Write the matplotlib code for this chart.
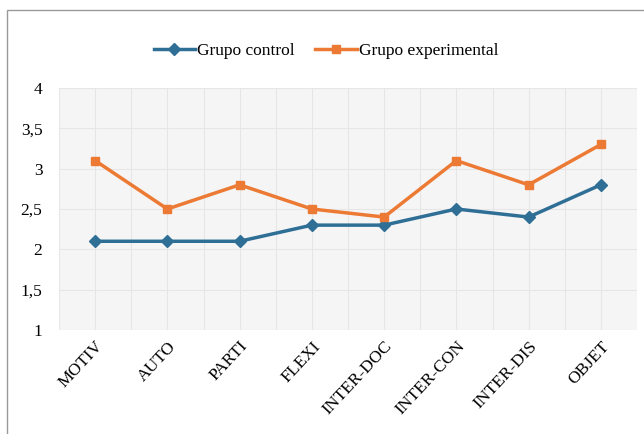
import matplotlib
matplotlib.use("Agg")
import matplotlib.pyplot as plt
from matplotlib.patches import Rectangle
import numpy as np

categories = ["MOTIV", "AUTO", "PARTI", "FLEXI", "INTER-DOC", "INTER-CON", "INTER-DIS", "OBJET"]
control = [2.1, 2.1, 2.1, 2.3, 2.3, 2.5, 2.4, 2.8]
experimental = [3.1, 2.5, 2.8, 2.5, 2.4, 3.1, 2.8, 3.3]
yticks = [1, 1.5, 2, 2.5, 3, 3.5, 4]
ytick_labels = ["1", "1,5", "2", "2,5", "3", "3,5", "4"]

plt.rcParams['font.family'] = ['Liberation Serif', 'DejaVu Serif']

fig = plt.figure(figsize=(6.44, 4.34), dpi=100)
fig.patches.append(Rectangle((7/644, -0.1), 1.2, 1 - 10/434 + 0.1,
                             transform=fig.transFigure, fill=False,
                             edgecolor='#9a9a9a', linewidth=1.0))

ax = fig.add_axes([59/644, 1 - 330/434, 578/644, 242/434])
ax.set_facecolor('#f5f5f5')
x = np.arange(len(categories))
ax.plot(x, control, color='#2f6f96', marker='D', markersize=6, linewidth=2.5,
        label='Grupo control', zorder=3)
ax.plot(x, experimental, color='#ec7a34', marker='s', markersize=6, linewidth=2.5,
        label='Grupo experimental', zorder=3)

ax.set_xlim(-0.5, len(categories) - 0.5)
ax.set_ylim(1, 4)
ax.set_yticks(yticks)
ax.set_yticklabels(ytick_labels, fontsize=12.5)
ax.set_xticks(x)
ax.set_xticklabels(categories, rotation=47, ha='right', rotation_mode='anchor', fontsize=12.5)
ax.set_xticks(np.arange(-0.5, len(categories), 0.5), minor=True)
ax.grid(True, which='minor', axis='x', color='#e6e6e6', linewidth=0.8)
ax.grid(True, which='major', axis='both', color='#e6e6e6', linewidth=0.8)
ax.set_axisbelow(True)
ax.tick_params(axis='y', which='both', length=0, pad=12)
ax.tick_params(axis='x', which='both', length=0, pad=6)
for s in ax.spines.values():
    s.set_visible(False)

fig.legend(loc='center', bbox_to_anchor=(326/644, 1 - 51/434), ncol=2, frameon=False,
           fontsize=12.5, handlelength=2.4, handletextpad=0.1, columnspacing=1.2)

fig.savefig("out.png", dpi=100)
